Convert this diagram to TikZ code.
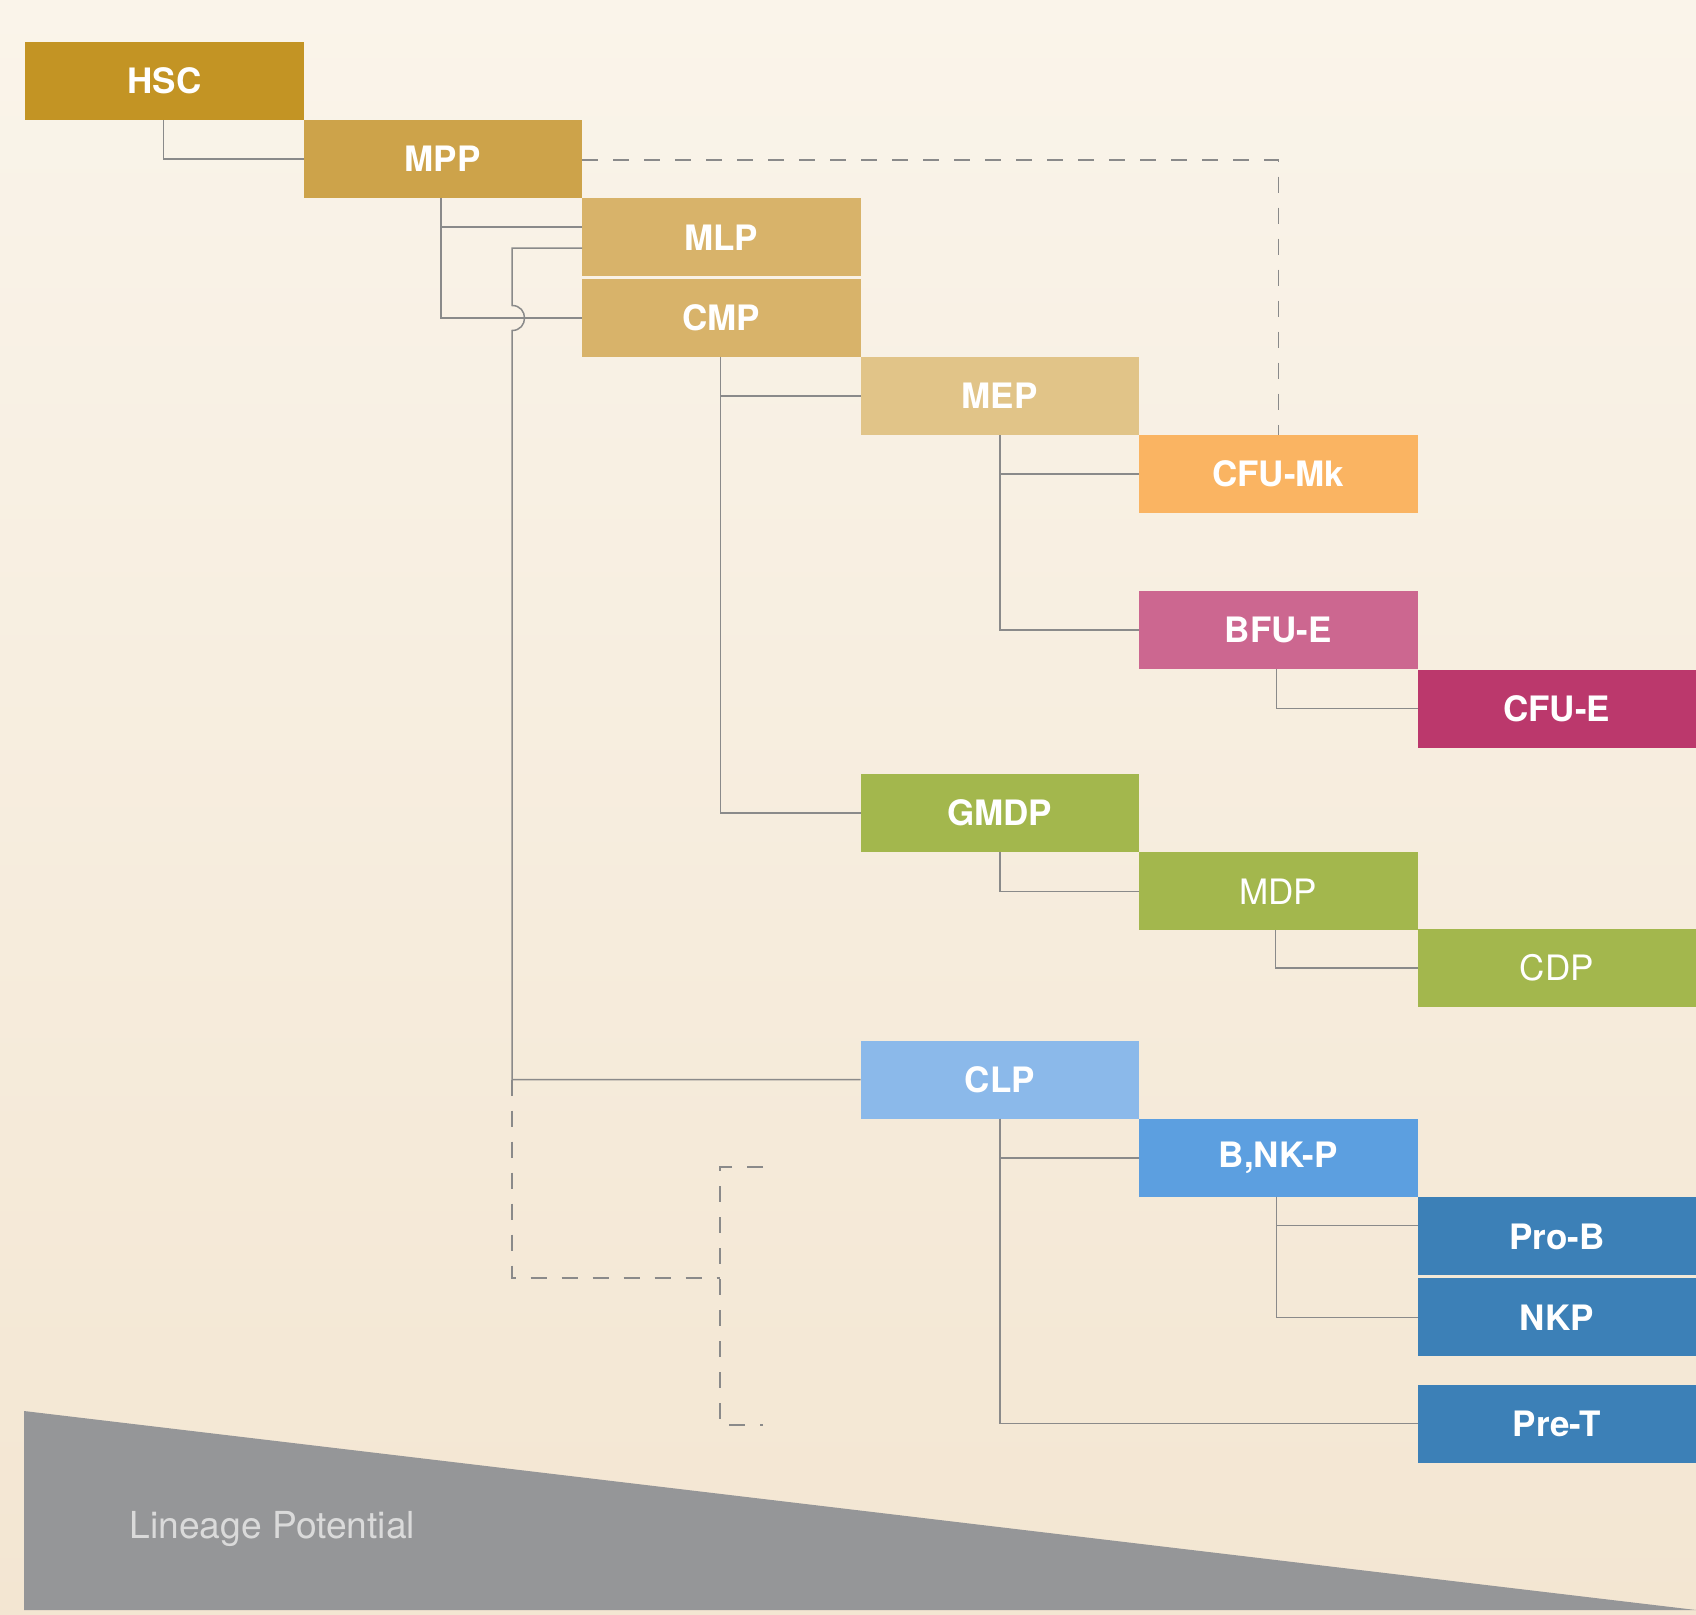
\documentclass[tikz,border=0pt]{standalone}
\usepackage{xcolor}
\usepackage{fontspec}
\setmainfont{TeX Gyre Heros}
\usepackage{tikz}
\usetikzlibrary{calc}
\definecolor{bgtop}{HTML}{FAF4EA}
\definecolor{bgbottom}{HTML}{F3E6D2}
\definecolor{linegray}{HTML}{8A8A8A}
\definecolor{wedge}{HTML}{959698}
\definecolor{wedgetext}{HTML}{DADADA}
\definecolor{hsccol}{HTML}{C39424}
\definecolor{mppcol}{HTML}{CDA34A}
\definecolor{cmpcol}{HTML}{D8B36A}
\definecolor{mepcol}{HTML}{E1C488}
\definecolor{mkcol}{HTML}{FAB462}
\definecolor{bfucol}{HTML}{CC6790}
\definecolor{cfucol}{HTML}{BB386C}
\definecolor{gmcol}{HTML}{A3B74D}
\definecolor{clpcol}{HTML}{8BB9EA}
\definecolor{bnkcol}{HTML}{5C9FE0}
\definecolor{lymcol}{HTML}{3C80B7}
\tikzset{
	cell/.style={rectangle,draw=none,minimum width=139.25pt,minimum height=39pt,inner sep=0pt,outer sep=0pt,text=white,font=\bfseries\fontsize{17.5}{20}\selectfont},
	plain cell/.style={cell,font=\fontsize{17.5}{20}\selectfont},
	link/.style={draw=linegray,line width=0.75pt},
	maybe/.style={link,dash pattern=on 8pt off 7.5pt}
	}
\begin{document}
\begin{tikzpicture}[x=0.5pt,y=-0.5pt]
	\useasboundingbox (0,0) rectangle (1696,1615);
	\shade[top color=bgtop,bottom color=bgbottom] (0,0) rectangle (1696,1615);
	\fill[wedge] (24,1411) -- (1696,1610) -- (24,1610) -- cycle;
	\node[anchor=west,inner sep=0pt,text=wedgetext,font=\fontsize{18.6}{20}\selectfont] (lp) at (129,1529) {Lineage Potential};

	\node[cell,fill=hsccol] (hsc) at (164.5,81) {HSC};
	\node[cell,fill=mppcol] (mpp) at (442.75,159) {MPP};
	\node[cell,fill=cmpcol] (mlp) at (721.25,237.25) {MLP};
	\node[cell,fill=cmpcol] (cmp) at (721.25,318) {CMP};
	\node[cell,fill=mepcol] (mep) at (999.75,396) {MEP};
	\node[cell,fill=mkcol] (cfumk) at (1278.25,474) {CFU-Mk};
	\node[cell,fill=bfucol] (bfue) at (1278.25,630) {BFU-E};
	\node[cell,fill=cfucol] (cfue) at (1556.75,708.5) {CFU-E};
	\node[cell,fill=gmcol] (gmdp) at (999.75,813) {GMDP};
	\node[plain cell,fill=gmcol] (mdp) at (1278.25,891.3) {MDP};
	\node[plain cell,fill=gmcol] (cdp) at (1556.75,968) {CDP};
	\node[cell,fill=clpcol] (clp) at (999.75,1079.5) {CLP};
	\node[cell,fill=bnkcol] (bnkp) at (1278.25,1157.9) {B,NK-P};
	\node[cell,fill=lymcol] (prob) at (1556.75,1236.4) {Pro-B};
	\node[cell,fill=lymcol] (nkp) at (1556.75,1317.4) {NKP};
	\node[cell,fill=lymcol] (pret) at (1556.75,1423.5) {Pre-T};

	\coordinate (jump) at (512,318);
	\coordinate (fork) at (720,1278);
	\coordinate (capa) at (763,1167);
	\coordinate (capb) at (763,1425);

	\draw[link] ([xshift=-0.5pt]hsc.south) |- (mpp.west);
	\draw[link] ([xshift=-1pt]mpp.south) |- ([yshift=5pt]mlp.west);
	\draw[link] ([xshift=-1pt]mpp.south) |- (cmp.west);
	\draw[link] ([yshift=-5.5pt]mlp.west) -| ([yshift=6.25pt]jump)
		.. controls +(16.7,0) and +(16.7,0) .. ([yshift=-6.25pt]jump) |- (clp.west);
	\draw[maybe] (jump |- clp.west) -- (jump |- fork) -- (fork);
	\draw[maybe] (capa) -- (capa -| fork) -- (capb -| fork) -- (capb);
	\draw[maybe] ([yshift=-0.5pt]mpp.east) -| (cfumk.north);
	\draw[link] ([xshift=-0.5pt]cmp.south) |- (mep.west);
	\draw[link] ([xshift=-0.5pt]cmp.south) |- (gmdp.west);
	\draw[link] (mep.south) |- (cfumk.west);
	\draw[link] (mep.south) |- (bfue.west);
	\draw[link] ([xshift=-1pt]bfue.south) |- (cfue.west);
	\draw[link] (gmdp.south) |- (mdp.west);
	\draw[link] ([xshift=-1.5pt]mdp.south) |- (cdp.west);
	\draw[link] (clp.south) |- (bnkp.west);
	\draw[link] (clp.south) |- (pret.west);
	\draw[link] ([xshift=-1pt]bnkp.south) |- ([yshift=5.5pt]prob.west);
	\draw[link] ([xshift=-1pt]bnkp.south) |- (nkp.west);
\end{tikzpicture}
\end{document}
